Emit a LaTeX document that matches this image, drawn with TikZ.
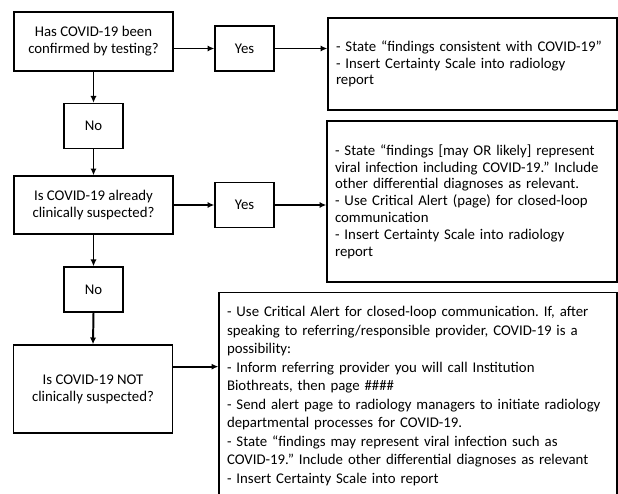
\documentclass[tikz,border=0pt]{standalone}
\usepackage{fontspec}
\setmainfont{Carlito}
\usetikzlibrary{arrows.meta,calc}
\frenchspacing

\begin{document}
\begin{tikzpicture}[x=0.81pt,y=-0.81pt,
  box/.style={draw=black,line width=1.1pt,inner sep=0pt,font=\fontsize{12}{13.6}\selectfont},
  question/.style={box,align=center,minimum width=128.8pt},
  answer/.style={box,align=center,minimum width=47.8pt,minimum height=36.5pt},
  action/.style={box,align=left,inner xsep=6.5pt},
  flow/.style={line width=1.6pt,-{Latex[length=5.5pt,width=5pt]}}]
\useasboundingbox (0,0) rectangle (618,494);
% questions on the left
\node[question,minimum height=47.8pt] (q1) at (93.5,41.5) {Has COVID-19 been\\confirmed by testing?};
\node[answer] (no1) at (93.5,126) {No};
\node[question,minimum height=47pt] (q2) at (93.5,205) {Is COVID-19 already\\clinically suspected?};
\node[answer] (no2) at (93.5,289.5) {No};
\node[question,minimum height=71.3pt] (q3) at (93,389) {Is COVID-19 NOT\\clinically suspected?};
% yes answers
\node[answer] (yes1) at (244.5,48.5) {Yes};
\node[answer] (yes2) at (244.5,205) {Yes};
% what to do
\node[action,text width=221.1pt,minimum height=74.5pt] (r1) at (472.5,64)
  {- State “findings consistent with COVID-19”\\
   - Insert Certainty Scale into radiology\\
   report};
\node[action,text width=221.9pt,minimum height=130.4pt] (r2) at (472,201.5)
  {- State “findings [may OR likely] represent\\
   viral infection including COVID-19.” Include\\
   other differential diagnoses as relevant.\\
   - Use Critical Alert (page) for closed-loop\\
   communication\\
   - Insert Certainty Scale into radiology\\
   report};
\node[action,text width=309.4pt,minimum height=167.6pt,
  font=\fontsize{12}{15}\selectfont] (r3) at (418,396)
  {- Use Critical Alert for closed-loop communication. If, after\\
   speaking to referring/responsible provider, COVID-19 is a\\
   possibility:\\
   - Inform referring provider you will call Institution\\
   Biothreats, then page \#\#\#\#\\
   - Send alert page to radiology managers to initiate radiology\\
   departmental processes for COVID-19.\\
   - State “findings may represent viral infection such as\\
   COVID-19.” Include other differential diagnoses as relevant\\
   - Insert Certainty Scale into report};
% arrows
\draw[flow] (q1.south) -- (no1.north);
\draw[flow] (no1.south) -- (q2.north);
\draw[flow] (q2.south) -- (no2.north);
\draw[flow] (no2.south) -- (q3.north);
\draw[flow] (yes1 -| q1.east) -- (yes1.west);
\draw[flow] (yes1.east) -- (yes1 -| r1.west);
\draw[flow] (yes2 -| q2.east) -- (yes2.west);
\draw[flow] (yes2.east) -- (yes2 -| r2.west);
\coordinate (q3out) at ($(q3.north east)!0.25!(q3.south east)$);
\draw[flow] (q3out) -- (q3out -| r3.west);
\end{tikzpicture}
\end{document}
